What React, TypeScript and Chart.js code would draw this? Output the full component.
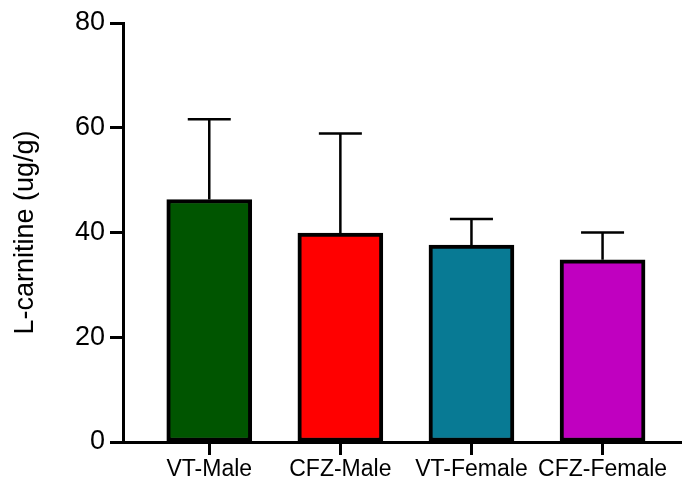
import React, { useEffect, useRef } from "react";
import { Chart, registerables } from "chart.js";

Chart.register(...registerables);

const categories = ["VT-Male", "CFZ-Male", "VT-Female", "CFZ-Female"];
const means = [46.3, 39.9, 37.6, 34.8];
const errorTops = [61.6, 58.9, 42.6, 40.0];
const barColors = ["#005500", "#ff0000", "#087a94", "#c000c0"];
const yTicks = [0, 20, 40, 60, 80];
const yTitle = "L-carnitine (ug/g)";

const FONT = "'Liberation Sans', Arial, Helvetica, sans-serif";

const errorBarPlugin = {
  id: "errorBars",
  afterDatasetsDraw(chart: any) {
    const { ctx } = chart;
    const xs = chart.scales.x;
    const ys = chart.scales.y;
    ctx.save();
    ctx.strokeStyle = "#000";
    ctx.lineWidth = 2.5;
    means.forEach((m, i) => {
      const x = xs.getPixelForValue(i);
      const y0 = ys.getPixelForValue(m);
      const y1 = ys.getPixelForValue(errorTops[i]);
      ctx.beginPath();
      ctx.moveTo(x, y0);
      ctx.lineTo(x, y1);
      ctx.moveTo(x - 21.5, y1);
      ctx.lineTo(x + 21.5, y1);
      ctx.stroke();
    });
    ctx.restore();
  },
};

export default function App() {
  const ref = useRef<HTMLCanvasElement | null>(null);

  useEffect(() => {
    if (!ref.current) return;
    const chart = new Chart(ref.current, {
      type: "bar",
      data: {
        datasets: [
          {
            data: means.map((v, i) => ({ x: i, y: v })),
            backgroundColor: barColors,
            borderColor: "#000",
            borderWidth: 4,
            borderSkipped: false,
            barThickness: 85,
          },
        ],
      },
      options: {
        responsive: false,
        animation: false,
        layout: { padding: { top: 23, right: 0, left: 0, bottom: 0 } },
        plugins: {
          legend: { display: false },
          tooltip: { enabled: false },
        },
        scales: {
          x: {
            type: "linear",
            offset: false,
            min: -0.658,
            max: 3.606,
            afterBuildTicks: (scale: any) => {
              scale.ticks = categories.map((_, i) => ({ value: i }));
            },
            afterFit: (scale: any) => {
              scale.height = 38;
            },
            grid: {
              drawOnChartArea: false,
              drawTicks: true,
              offset: false,
              tickLength: 13,
              tickWidth: 3,
              tickColor: "#000",
            },
            border: { display: true, color: "#000", width: 3 },
            ticks: {
              autoSkip: false,
              maxRotation: 0,
              minRotation: 0,
              padding: 1,
              color: "#000",
              font: { family: FONT, size: 23 },
              callback: (v: any) => categories[v as number] ?? "",
            },
          },
          y: {
            min: 0,
            max: 80,
            afterBuildTicks: (scale: any) => {
              scale.ticks = yTicks.map((v) => ({ value: v }));
            },
            afterFit: (scale: any) => {
              scale.width = 123;
            },
            grid: {
              drawOnChartArea: false,
              drawTicks: true,
              tickLength: 13,
              tickWidth: 3,
              tickColor: "#000",
            },
            border: { display: true, color: "#000", width: 3 },
            ticks: {
              padding: 5,
              color: "#000",
              font: { family: FONT, size: 27 },
            },
            title: {
              display: true,
              text: yTitle,
              color: "#000",
              font: { family: FONT, size: 27 },
              padding: { top: 9, bottom: 0 },
            },
          },
        },
      },
      plugins: [errorBarPlugin],
    });
    return () => chart.destroy();
  }, []);

  return (
    <div style={{ position: "fixed", left: 0, top: 0, width: 682, height: 480, background: "#fff" }}>
      <canvas ref={ref} width={682} height={480} style={{ display: "block" }} />
    </div>
  );
}
